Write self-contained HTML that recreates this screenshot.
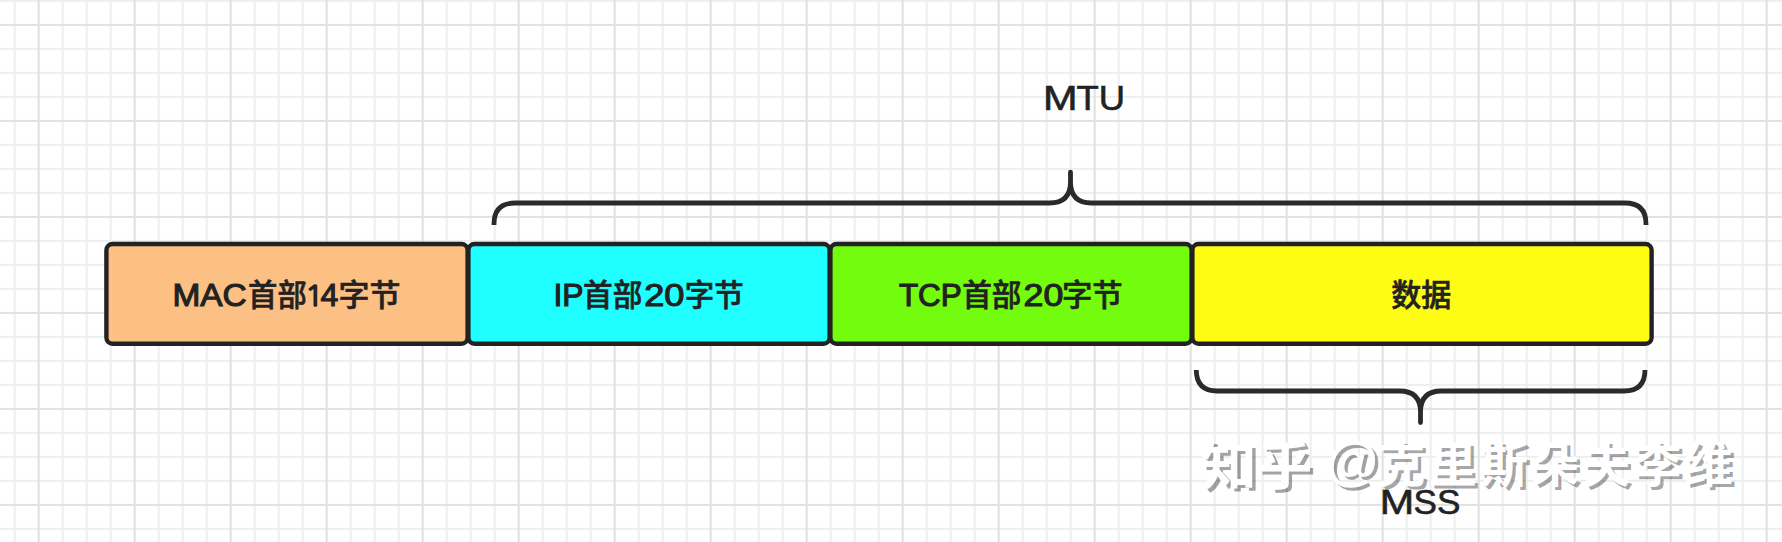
<!DOCTYPE html>
<html lang="zh">
<head>
<meta charset="utf-8">
<title>MTU / MSS</title>
<style>
html,body{margin:0;padding:0;background:#fff;}
body{width:1782px;height:542px;position:relative;overflow:hidden;font-family:"Liberation Sans","Noto Sans CJK SC",sans-serif;}
#stage{position:absolute;left:0;top:0;width:1782px;height:542px;overflow:hidden;}
svg{position:absolute;left:0;top:0;display:block;}
svg text{white-space:pre;}
.fL{font-family:'Liberation Sans',sans-serif;font-size:31px;stroke:#222;stroke-width:1.1px;fill:#222;}
.fC{font-family:'Liberation Sans','Noto Sans CJK SC',sans-serif;font-weight:500;font-size:30.2px;stroke:#222;stroke-width:0.6px;fill:#222;}
.fO{font-family:'NanumGothic','Liberation Sans',sans-serif;font-size:28px;stroke:#222;stroke-width:1.3px;fill:#222;}
.fK{font-family:'Liberation Sans',sans-serif;font-size:35.7px;stroke:#222;stroke-width:0.6px;fill:#222;}
.wm{position:absolute;white-space:nowrap;color:#fff;line-height:1;font-family:"Liberation Sans","Noto Sans CJK SC",sans-serif;font-weight:700;text-shadow:3.2px 3.2px 0.5px rgba(0,0,0,.36);}
</style>
</head>
<body>
<div id="stage">
<svg id="base" width="1782" height="542" viewBox="0 0 1782 542">
  <defs>
    <pattern id="grid" x="38.7" y="24.9" width="96" height="96" patternUnits="userSpaceOnUse">
      <g fill="#eeeeee">
        <rect x="23" y="0" width="2" height="96"/><rect x="47" y="0" width="2" height="96"/><rect x="71" y="0" width="2" height="96"/>
        <rect x="0" y="23" width="96" height="2"/><rect x="0" y="47" width="96" height="2"/><rect x="0" y="71" width="96" height="2"/>
      </g>
      <g fill="#e0e0e0">
        <rect x="0" y="0" width="1" height="96"/><rect x="95" y="0" width="1" height="96"/>
        <rect x="0" y="0" width="96" height="1"/><rect x="0" y="95" width="96" height="1"/>
      </g>
    </pattern>
  </defs>
  <rect x="0" y="0" width="1782" height="542" fill="#ffffff"/>
  <rect x="0" y="0" width="1782" height="542" fill="url(#grid)"/>

  <!-- top brace (MTU) -->
  <path d="M494 225 L494 224 Q494 203 515 203 L1049.5 203 Q1070.5 203 1070.5 182 L1070.5 172.2 L1070.5 182 Q1070.5 203 1091.5 203 L1625 203 Q1646 203 1646 224 L1646 225" fill="none" stroke="#2a2a2a" stroke-width="4.8" stroke-linejoin="round"/>
  <!-- bottom brace (MSS) -->
  <path d="M1196.3 370 L1196.3 370 Q1196.3 391 1217.3 391 L1399.5 391 Q1420.5 391 1420.5 412 L1420.5 422.6 L1420.5 412 Q1420.5 391 1441.5 391 L1624 391 Q1645 391 1645 370 L1645 370" fill="none" stroke="#2a2a2a" stroke-width="4.8" stroke-linejoin="round"/>

  <!-- boxes -->
  <g stroke="#222" stroke-width="4.4">
    <rect x="106.4" y="244" width="361.2" height="99.7" rx="6.2" ry="6.2" fill="#fdc084"/>
    <rect x="468.4" y="244" width="361.2" height="99.7" rx="6.2" ry="6.2" fill="#20ffff"/>
    <rect x="830.4" y="244" width="361.2" height="99.7" rx="6.2" ry="6.2" fill="#74fc0e"/>
    <rect x="1192.4" y="244" width="459.2" height="99.7" rx="6.2" ry="6.2" fill="#fffc14"/>
  </g>
</svg>

<div class="wm" id="wm1" style="left:1200.6px;top:440.6px;font-size:52.5px;transform:scaleX(1.06);transform-origin:0 0;">知乎</div>
<div class="wm" id="wm2" style="left:1326.6px;top:434px;font-size:53px;">@</div>
<div class="wm" id="wm3" style="left:1377.6px;top:442px;font-size:48px;letter-spacing:3.2px;">克里斯朵夫李维</div>

<svg id="labels" width="1782" height="542" viewBox="0 0 1782 542">
  <text id="t1"><tspan class="fL" x="172.44" y="305.6" textLength="74.25" lengthAdjust="spacingAndGlyphs">MAC</tspan><tspan class="fC" x="248.09" y="306.3" textLength="58.68" lengthAdjust="spacingAndGlyphs">首部</tspan><tspan class="fO" x="304.85" y="305.6" textLength="19.05" lengthAdjust="spacingAndGlyphs">1</tspan><tspan class="fL" x="320.44" y="305.6" textLength="17.82" lengthAdjust="spacingAndGlyphs">4</tspan><tspan class="fC" x="338.40" y="306.3" textLength="62.07" lengthAdjust="spacingAndGlyphs">字节</tspan></text>
  <text id="t2"><tspan class="fL" x="553.49" y="305.6" textLength="30.09" lengthAdjust="spacingAndGlyphs">IP</tspan><tspan class="fC" x="582.97" y="306.3" textLength="59.41" lengthAdjust="spacingAndGlyphs">首部</tspan><tspan class="fL" x="644.23" y="305.6" textLength="40.22" lengthAdjust="spacingAndGlyphs">20</tspan><tspan class="fC" x="684.69" y="306.3" textLength="58.92" lengthAdjust="spacingAndGlyphs">字节</tspan></text>
  <text id="t3"><tspan class="fL" x="898.95" y="305.6" textLength="62.77" lengthAdjust="spacingAndGlyphs">TCP</tspan><tspan class="fC" x="962.17" y="306.3" textLength="59.30" lengthAdjust="spacingAndGlyphs">首部</tspan><tspan class="fL" x="1023.55" y="305.6" textLength="39.70" lengthAdjust="spacingAndGlyphs">20</tspan><tspan class="fC" x="1061.94" y="306.3" textLength="60.81" lengthAdjust="spacingAndGlyphs">字节</tspan></text>
  <text id="t4"><tspan class="fC" x="1391.20" y="306.3" textLength="60.08" lengthAdjust="spacingAndGlyphs">数据</tspan></text>
  <text id="mtu"><tspan class="fK" x="1042.90" y="109.9" textLength="34.58" lengthAdjust="spacingAndGlyphs">M</tspan><tspan class="fK" x="1076.49" y="109.9" textLength="48.59" lengthAdjust="spacingAndGlyphs">TU</tspan></text>
  <text id="mss"><tspan class="fK" x="1379.71" y="513.8" textLength="34.46" lengthAdjust="spacingAndGlyphs">M</tspan><tspan class="fK" x="1413.47" y="513.8" textLength="46.87" lengthAdjust="spacingAndGlyphs">SS</tspan></text>
</svg>
</div>
</body>
</html>
